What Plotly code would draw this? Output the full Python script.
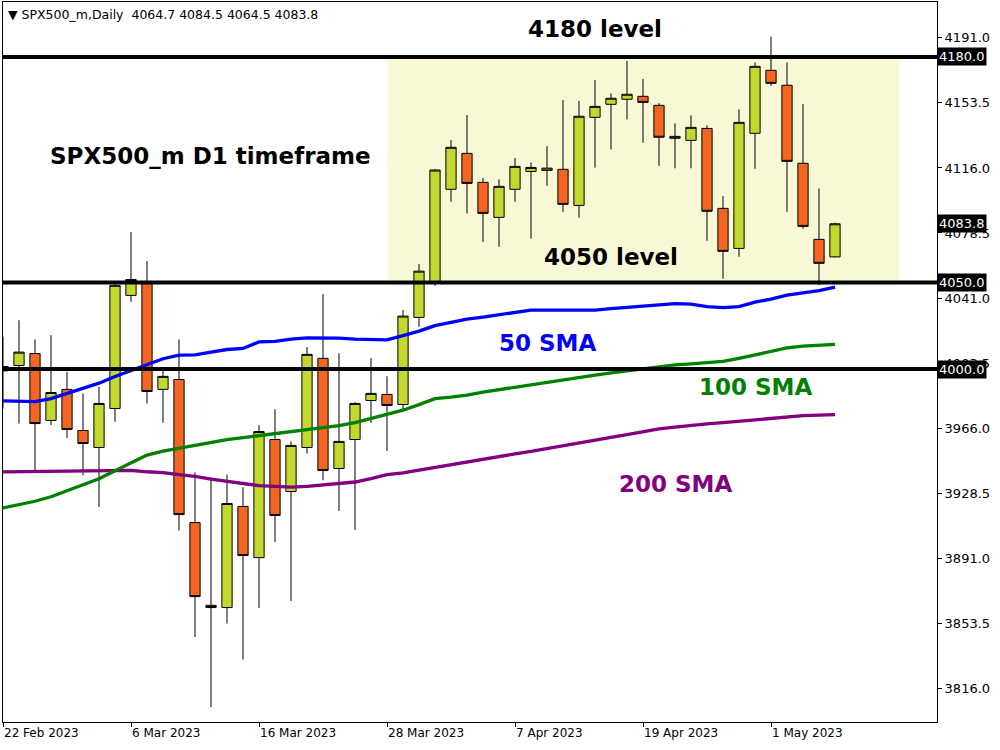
import pandas as pd
import plotly.graph_objects as go

# ---- data ----
dates = pd.bdate_range("2023-02-22", "2023-05-05")
date_labels = [d.strftime("%-d %b %Y") for d in dates]

opens = [4001.5, 4002.1, 4009.0, 3970.4, 3988.3, 3964.6, 3954.8, 3977.3, 4042.5, 4050.3,
         3988.3, 3994.0, 3911.5, 3863.8, 3862.5, 3920.8, 3891.3, 3959.4, 3929.4, 3954.8,
         4006.2, 3942.7, 3959.4, 3981.9, 3985.4, 3979.6, 4029.8, 4050.5, 4103.7, 4124.4,
         4107.7, 4087.5, 4103.7, 4114.0, 4114.6, 4115.2, 4094.4, 4145.2, 4152.7, 4155.6,
         4157.3, 4152.1, 4133.1, 4131.9, 4138.8, 4092.7, 4069.6, 4136.0, 4172.3, 4163.7,
         4118.7, 4074.8, 4064.7]
highs = [4018.6, 4028.2, 4017.1, 4019.6, 3998.4, 3986.0, 3989.8, 4049.0, 4079.0, 4062.3,
         3999.4, 4017.1, 3940.4, 3937.5, 3939.2, 3931.9, 3967.7, 3976.9, 3958.3, 4012.7,
         4043.2, 4009.2, 3980.9, 4006.3, 3995.9, 4034.0, 4060.6, 4115.4, 4132.1, 4146.5,
         4110.2, 4109.4, 4121.7, 4119.2, 4128.5, 4155.2, 4154.6, 4166.7, 4159.0, 4177.7,
         4167.3, 4153.4, 4141.7, 4146.3, 4140.6, 4099.8, 4149.8, 4176.9, 4191.7, 4176.9,
         4152.9, 4104.2, 4084.5]
lows = [3977.3, 3968.6, 3941.7, 3967.7, 3960.3, 3938.8, 3920.5, 3969.6, 4038.8, 3980.2,
        3969.0, 3906.9, 3845.5, 3805.1, 3853.3, 3832.5, 3862.3, 3900.3, 3866.3, 3951.3,
        3935.9, 3918.2, 3907.3, 3969.0, 3952.8, 3976.0, 4024.4, 4048.0, 4096.5, 4089.8,
        4073.4, 4070.5, 4096.5, 4075.2, 4105.7, 4090.7, 4087.3, 4116.2, 4126.7, 4144.0,
        4130.5, 4117.3, 4115.8, 4115.8, 4074.0, 4052.1, 4064.8, 4115.5, 4163.4, 4090.7,
        4080.9, 4048.4, 4064.5]
closes = [3999.0, 4009.8, 3968.6, 3986.5, 3965.2, 3957.1, 3980.2, 4048.3, 4051.7, 3987.1,
          3995.8, 3916.1, 3868.8, 3862.5, 3922.5, 3892.5, 3964.0, 3915.6, 3956.0, 4008.5,
          3941.5, 3958.3, 3980.2, 3986.0, 3979.0, 4030.6, 4056.5, 4114.8, 4127.9, 4107.1,
          4089.8, 4105.4, 4116.9, 4116.3, 4115.9, 4095.0, 4145.8, 4151.5, 4156.2, 4158.5,
          4153.8, 4133.7, 4134.2, 4139.4, 4091.0, 4067.9, 4142.3, 4174.6, 4164.8, 4119.8,
          4082.3, 4061.0, 4083.8]

sma50 = [3981.7, 3981.5, 3981.3, 3983.0, 3986.1, 3989.0, 3991.9, 3995.7, 3999.1, 4002.9,
         4006.0, 4008.1, 4008.2, 4009.8, 4011.3, 4011.9, 4015.7, 4016.0, 4017.3, 4018.0,
         4018.0, 4017.9, 4017.3, 4016.9, 4016.9, 4019.3, 4021.9, 4025.1, 4027.1, 4028.8,
         4030.0, 4031.4, 4032.9, 4034.0, 4034.0, 4034.0, 4034.0, 4034.0, 4034.9, 4035.7,
         4036.3, 4036.9, 4037.8, 4037.5, 4036.0, 4035.5, 4036.0, 4038.6, 4040.4, 4042.7,
         4044.1, 4045.3, 4047.3]
sma100 = [3920.0, 3921.8, 3923.8, 3926.4, 3929.8, 3933.3, 3936.8, 3941.4, 3946.0, 3950.4,
          3952.7, 3954.4, 3955.8, 3957.7, 3959.4, 3960.5, 3961.6, 3962.8, 3964.0, 3965.1,
          3965.9, 3967.4, 3969.1, 3971.4, 3973.7, 3976.3, 3979.5, 3983.0, 3983.8, 3985.0,
          3986.7, 3988.1, 3989.8, 3991.1, 3992.7, 3994.1, 3995.4, 3996.6, 3997.8, 3999.0,
          4000.3, 4001.5, 4002.5, 4003.0, 4003.6, 4004.4, 4006.2, 4008.3, 4010.5, 4012.2,
          4013.2, 4013.9, 4014.3]
sma200 = [3940.7, 3940.8, 3941.0, 3941.1, 3941.3, 3941.5, 3941.7, 3941.7, 3941.6, 3940.8,
          3940.3, 3939.2, 3938.2, 3936.5, 3935.4, 3934.0, 3932.8, 3932.4, 3931.9, 3932.4,
          3933.1, 3933.9, 3934.9, 3936.8, 3939.1, 3940.1, 3941.7, 3943.3, 3944.9, 3946.6,
          3948.2, 3949.7, 3951.1, 3952.5, 3954.2, 3955.7, 3957.3, 3958.9, 3960.6, 3962.2,
          3963.9, 3965.5, 3966.6, 3967.7, 3968.4, 3969.1, 3970.0, 3970.8, 3971.7, 3972.5,
          3973.2, 3973.5, 3973.8]

levels = [4180.0, 4050.0, 4000.0]
zone = (24, 56, 4050.0, 4180.0)   # index from, index to, price low, price high
last_price = closes[-1]

y_ticks = [3816.0, 3853.5, 3891.0, 3928.5, 3966.0, 4003.5, 4041.0, 4078.5, 4116.0, 4153.5, 4191.0]
x_tick_idx = [0, 8, 16, 24, 32, 40, 48]

UP = "#C2D831"
DOWN = "#F26624"
FONT = "DejaVu Sans"

xs = list(range(len(opens)))

fig = go.Figure()
fig.add_trace(go.Candlestick(
    x=xs, open=opens, high=highs, low=lows, close=closes,
    increasing=dict(fillcolor=UP, line=dict(color="black", width=1)),
    decreasing=dict(fillcolor=DOWN, line=dict(color="black", width=1)),
    showlegend=False, hoverinfo="skip",
))
fig.add_trace(go.Scatter(x=xs, y=sma200, mode="lines", line=dict(color="#800080", width=3.3), showlegend=False))
fig.add_trace(go.Scatter(x=xs, y=sma100, mode="lines", line=dict(color="#008000", width=3.3), showlegend=False))
fig.add_trace(go.Scatter(x=xs, y=sma50, mode="lines", line=dict(color="#0000FF", width=3.3), showlegend=False))

# yellow zone
fig.add_shape(type="rect", x0=zone[0], x1=zone[1], y0=zone[2], y1=zone[3],
              xref="x", yref="y", fillcolor="#F8F8D6", line=dict(width=0), layer="below")
# level lines
for lv in levels:
    fig.add_shape(type="line", x0=0, x1=1, xref="paper", y0=lv, y1=lv, yref="y",
                  line=dict(color="black", width=4), layer="above")

annots = []
# price boxes on the right axis
for val in levels + [last_price]:
    annots.append(dict(x=1, xref="paper", y=val, yref="y", xanchor="left", yanchor="middle",
                       text=f"{val:.1f}", showarrow=False, bgcolor="black", borderpad=1,
                       font=dict(family=FONT, size=13, color="white")))

# header
annots.append(dict(x=0.003, xref="paper", y=0.9955, yref="paper", xanchor="left", yanchor="top",
                   text=f"▼ SPX500_m,Daily  {opens[-1]:.1f} {highs[-1]:.1f} {lows[-1]:.1f} {closes[-1]:.1f}",
                   showarrow=False, font=dict(family=FONT, size=12.5, color="black")))

def label(text, xi, yp, color):
    annots.append(dict(x=xi, y=yp, xref="x", yref="y", text=text, showarrow=False,
                       xanchor="center", yanchor="middle",
                       font=dict(family=FONT, size=23, color=color, weight="bold")))

label("4180 level", 37.0, 4196.4, "black")
label("SPX500_m D1 timeframe", 12.94, 4122.9, "black")
label("4050 level", 38.0, 4064.6, "black")
label("50 SMA", 34.06, 4015.3, "#0000FF")
label("100 SMA", 47.06, 3989.9, "#008000")
label("200 SMA", 42.06, 3933.9, "#800080")

fig.update_layout(
    width=1000, height=750,
    margin=dict(l=3, r=63, t=2, b=28),
    paper_bgcolor="white", plot_bgcolor="white",
    annotations=annots,
    boxgap=0.2, boxgroupgap=0.2,
    showlegend=False,
    xaxis=dict(
        range=[0, 58.375], rangeslider=dict(visible=False),
        tickmode="array", tickvals=x_tick_idx, ticktext=[date_labels[i] for i in x_tick_idx],
        ticks="outside", ticklen=4, tickcolor="black", ticklabelposition="outside right",
        showgrid=False, zeroline=False,
        showline=True, linecolor="black", linewidth=1, mirror=True,
        tickfont=dict(family=FONT, size=12, color="black"),
    ),
    yaxis=dict(
        side="right", range=[3796.5, 4211.7],
        tickmode="array", tickvals=y_ticks, ticktext=[f"{v:.1f}" for v in y_ticks],
        ticks="outside", ticklen=4, tickcolor="black",
        showgrid=False, zeroline=False,
        showline=True, linecolor="black", linewidth=1, mirror=True,
        tickfont=dict(family=FONT, size=13, color="black"),
    ),
)

fig.write_html("out.html", config={"displayModeBar": False},
               post_script="document.body.style.margin='0px';")
